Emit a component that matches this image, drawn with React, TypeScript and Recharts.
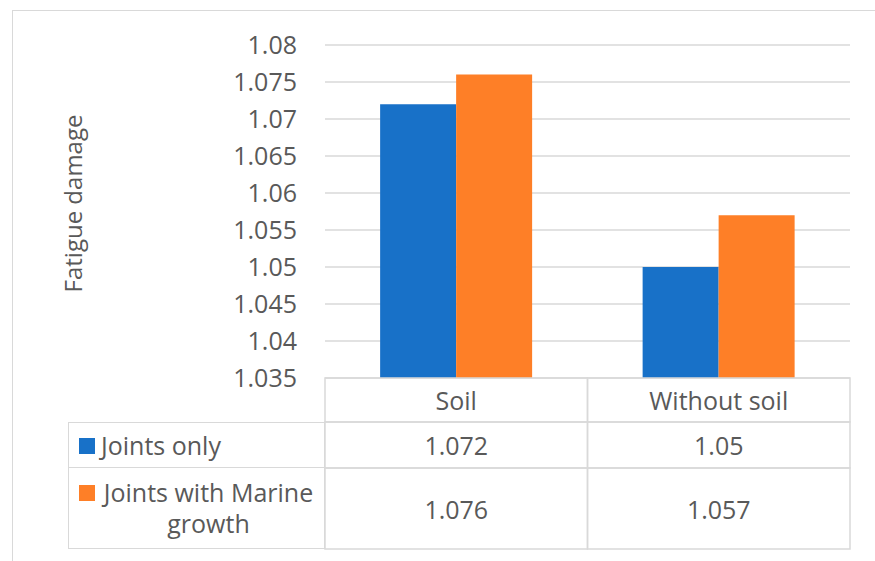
import { Bar, BarChart, CartesianGrid, Legend, XAxis, YAxis } from "recharts";

const categories = ["Soil", "Without soil"];
const jointsOnly = [1.072, 1.05];
const marineGrowth = [1.076, 1.057];
const seriesNames = ["Joints only", "Joints with Marine growth"];
const yTicks = [1.035, 1.04, 1.045, 1.05, 1.055, 1.06, 1.065, 1.07, 1.075, 1.08];

const data = categories.map((c, i) => ({ name: c, joints: jointsOnly[i], marine: marineGrowth[i] }));

const W = 867;
const H = 553;
const MARGIN = { top: 37, right: 25, left: 0, bottom: 0 };
const Y_AXIS_W = 317;
const PLOT_W = W - Y_AXIS_W - MARGIN.right;
const COL_W = PLOT_W / categories.length;
const HEADER_H = 44;
const ROW1_H = 46;
const ROW2_H = 81;
const GRID = "#d9d9d9";
const TEXT = "#595959";
const BLUE = "#1871c8";
const ORANGE = "#fe7f27";

function TableColumn(props: any) {
  const { x, y, payload } = props;
  const i = payload.index;
  const left = x - COL_W / 2;
  const cells = [
    { top: y, h: HEADER_H, text: payload.value },
    { top: y + HEADER_H, h: ROW1_H, text: String(jointsOnly[i]) },
    { top: y + HEADER_H + ROW1_H, h: ROW2_H, text: String(marineGrowth[i]) },
  ];
  return (
    <g>
      {cells.map((c, k) => (
        <g key={k}>
          <rect x={left} y={c.top} width={COL_W} height={c.h} fill="none" stroke={GRID} strokeWidth={1.5} />
          <text x={x} y={c.top + c.h / 2} textAnchor="middle" dominantBaseline="central" fill={TEXT} fontSize={25}>
            {c.text}
          </text>
        </g>
      ))}
    </g>
  );
}

function LegendColumn(props: any) {
  const items = props.payload || [];
  const heights = [ROW1_H, ROW2_H];
  return (
    <div style={{ width: "100%", fontFamily: "'Open Sans', sans-serif", fontSize: 25, color: TEXT }}>
      {items.map((it: any, k: number) => (
        <div
          key={k}
          style={{
            boxSizing: "border-box",
            height: heights[k],
            border: `1.5px solid ${GRID}`,
            borderTop: k === 0 ? `1.5px solid ${GRID}` : "none",
            display: "flex",
            flexDirection: "column",
            justifyContent: "center",
            paddingLeft: 10,
            paddingRight: 8,
          }}
        >
          <div style={{ display: "flex", alignItems: "flex-start" }}>
            <span style={{ width: 16, height: 16, background: it.color, marginTop: 8, marginRight: 6, flexShrink: 0 }} />
            <span style={{ textAlign: "center", lineHeight: "31px" }}>{it.value}</span>
          </div>
        </div>
      ))}
    </div>
  );
}

function TitleLabel(props: any) {
  const { viewBox } = props;
  const cx = viewBox.x + 64;
  const cy = viewBox.y + viewBox.height / 2 - 8;
  return (
    <text x={cx} y={cy} transform={`rotate(-90 ${cx} ${cy})`} textAnchor="middle" dominantBaseline="central" fill={TEXT} fontSize={24}>
      Fatigue damage
    </text>
  );
}

export default function App() {
  return (
    <div style={{ position: "fixed", left: 0, top: 0, width: 875, height: 561, overflow: "hidden", background: "#fff" }}>
      <div style={{ position: "absolute", left: 8, top: 8, width: W, height: H, fontFamily: "'Open Sans', sans-serif" }}>
        <div style={{ position: "absolute", left: 4, top: 2, width: 900, height: 600, border: `1.5px solid ${GRID}` }} />
        <BarChart width={W} height={H} data={data} margin={MARGIN} barCategoryGap="21%" barGap={0}>
          <CartesianGrid horizontal vertical={false} stroke={GRID} strokeWidth={1.5} />
          <XAxis dataKey="name" axisLine={false} tickLine={false} tickSize={0} tickMargin={0} height={183} interval={0} tick={<TableColumn />} />
          <YAxis
            type="number"
            domain={[1.035, 1.08]}
            ticks={yTicks}
            allowDataOverflow
            width={Y_AXIS_W}
            axisLine={false}
            tickLine={false}
            tickSize={0}
            tickMargin={28}
            tick={{ fill: TEXT, fontSize: 25 }}
            tickFormatter={(v: number) => String(v)}
            label={<TitleLabel />}
          />
          <Legend
            layout="horizontal"
            verticalAlign="middle"
            align="center"
            wrapperStyle={{ position: "absolute", left: 60, top: 414, width: 257, height: 127 }}
            content={<LegendColumn />}
          />
          <Bar dataKey="joints" name={seriesNames[0]} fill={BLUE} isAnimationActive={false} />
          <Bar dataKey="marine" name={seriesNames[1]} fill={ORANGE} isAnimationActive={false} />
        </BarChart>
      </div>
    </div>
  );
}
